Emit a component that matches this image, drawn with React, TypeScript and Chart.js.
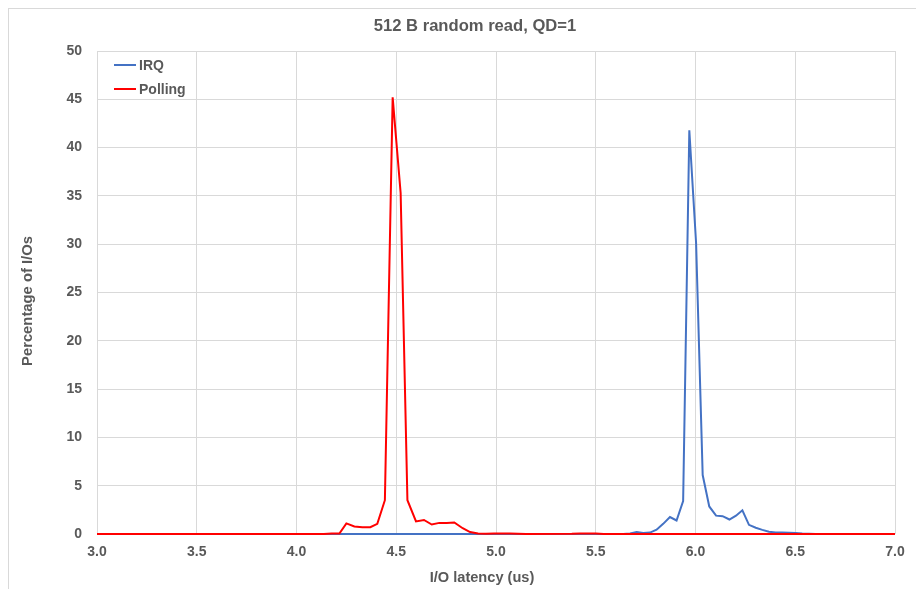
import React, { useEffect, useRef } from "react";
import { Chart, registerables } from "chart.js";

Chart.register(...registerables);

const TITLE = "512 B random read, QD=1";
const X_TITLE = "I/O latency (us)";
const Y_TITLE = "Percentage of I/Os";
const SERIES_NAMES = ["IRQ", "Polling"];
const SERIES_COLORS = ["#4472C4", "#FF0000"];

const X_MIN = 3.0;
const X_MAX = 7.0;
const X_STEP = 0.5;
const Y_MIN = 0;
const Y_MAX = 50;
const Y_STEP = 5;

// IRQ series (latency in us, percentage of I/Os)
const irqX = [
  3.0, 5.638, 5.672, 5.705, 5.738, 5.772, 5.805, 5.838, 5.872, 5.905, 5.938,
  5.969, 6.003, 6.036, 6.069, 6.103, 6.136, 6.17, 6.203, 6.235, 6.268, 6.302,
  6.335, 6.368, 6.402, 6.435, 6.469, 6.502, 6.535, 6.569, 6.602, 7.0,
];
const irqY = [
  0, 0, 0.05, 0.2, 0.1, 0.15, 0.45, 1.05, 1.75, 1.4, 3.4,
  41.8, 30.1, 6.1, 2.85, 1.9, 1.85, 1.5, 1.9, 2.45, 0.95, 0.65,
  0.43, 0.23, 0.15, 0.15, 0.12, 0.1, 0.05, 0.02, 0, 0,
];

// Polling series
const pollX = [
  3.0, 4.137, 4.176, 4.215, 4.25, 4.29, 4.33, 4.37, 4.405, 4.443, 4.482,
  4.522, 4.556, 4.599, 4.639, 4.678, 4.716, 4.753, 4.791, 4.833, 4.87,
  4.91, 4.95, 4.99, 5.03, 5.07, 5.11, 5.15, 5.38, 5.42, 5.46, 5.5, 5.54, 7.0,
];
const pollY = [
  0, 0, 0.05, 0.05, 1.1, 0.78, 0.7, 0.7, 1.05, 3.5, 45.2,
  35.3, 3.5, 1.3, 1.45, 0.98, 1.15, 1.15, 1.2, 0.6, 0.2,
  0.05, 0.03, 0.05, 0.05, 0.05, 0.02, 0, 0.03, 0.06, 0.06, 0.05, 0, 0,
];

const FONT = "'Liberation Sans', Arial, sans-serif";
const TEXT = "#595959";
const GRID = "#d9d9d9";

const textPlugin = {
  id: "excelTexts",
  afterDatasetsDraw(chart: any) {
    const { ctx, chartArea } = chart;
    ctx.save();
    // legend inside plot area
    ctx.font = `bold 14px ${FONT}`;
    ctx.textBaseline = "middle";
    ctx.textAlign = "left";
    SERIES_NAMES.forEach((name, i) => {
      const y = chartArea.top + 14 + i * 24;
      const x0 = chartArea.left + 17;
      ctx.strokeStyle = SERIES_COLORS[i];
      ctx.lineWidth = 2;
      ctx.beginPath();
      ctx.moveTo(x0, y);
      ctx.lineTo(x0 + 22, y);
      ctx.stroke();
      ctx.fillStyle = TEXT;
      ctx.fillText(name, x0 + 25, y + 1);
    });
    // chart title
    ctx.fillStyle = TEXT;
    ctx.textAlign = "center";
    ctx.font = `bold 16.6px ${FONT}`;
    ctx.fillText(TITLE, 466, 17);
    // x axis title
    ctx.font = `bold 14.6px ${FONT}`;
    ctx.fillText(X_TITLE, 473, 569);
    // y axis title
    ctx.translate(19, 292);
    ctx.rotate(-Math.PI / 2);
    ctx.font = `bold 14.8px ${FONT}`;
    ctx.fillText(Y_TITLE, 0, 0);
    ctx.restore();
  },
};

export default function App() {
  const ref = useRef<HTMLCanvasElement | null>(null);

  useEffect(() => {
    if (!ref.current) return;
    const chart = new Chart(ref.current, {
      type: "line",
      data: {
        // Polling listed first so it is drawn on top of IRQ (as in the reference)
        datasets: [
          {
            label: SERIES_NAMES[1],
            data: pollX.map((x, i) => ({ x, y: pollY[i] })),
            borderColor: SERIES_COLORS[1],
            backgroundColor: SERIES_COLORS[1],
            borderWidth: 2,
            pointRadius: 0,
            tension: 0,
            clip: 4,
          },
          {
            label: SERIES_NAMES[0],
            data: irqX.map((x, i) => ({ x, y: irqY[i] })),
            borderColor: SERIES_COLORS[0],
            backgroundColor: SERIES_COLORS[0],
            borderWidth: 2,
            pointRadius: 0,
            tension: 0,
            clip: 4,
          },
        ],
      },
      options: {
        animation: false,
        responsive: false,
        devicePixelRatio: 1,
        layout: { padding: { left: 0, right: 46, top: 42, bottom: 0 } },
        plugins: {
          legend: { display: false },
          tooltip: { enabled: false },
          title: { display: false },
        },
        scales: {
          x: {
            type: "linear",
            min: X_MIN,
            max: X_MAX,
            ticks: {
              stepSize: X_STEP,
              callback: (v: any) => Number(v).toFixed(1),
              color: TEXT,
              font: { family: FONT, size: 14, weight: "bold" },
              padding: 10,
              maxRotation: 0,
              autoSkip: false,
            },
            grid: { color: GRID, drawTicks: false, lineWidth: 1 },
            border: { display: false },
            afterFit: (s: any) => {
              s.height = 65;
            },
          },
          y: {
            type: "linear",
            min: Y_MIN,
            max: Y_MAX,
            ticks: {
              stepSize: Y_STEP,
              color: TEXT,
              font: { family: FONT, size: 14, weight: "bold" },
              padding: 15,
            },
            grid: { color: GRID, drawTicks: false, lineWidth: 1 },
            border: { display: false },
            afterFit: (s: any) => {
              s.width = 88;
            },
          },
        },
      },
      plugins: [textPlugin],
    });
    return () => chart.destroy();
  }, []);

  return (
    <div
      style={{
        position: "fixed",
        left: 8,
        top: 8,
        width: 932,
        height: 590,
        border: "1px solid #d9d9d9",
        background: "#ffffff",
      }}
    >
      <canvas ref={ref} width={932} height={590} style={{ display: "block" }} />
    </div>
  );
}
